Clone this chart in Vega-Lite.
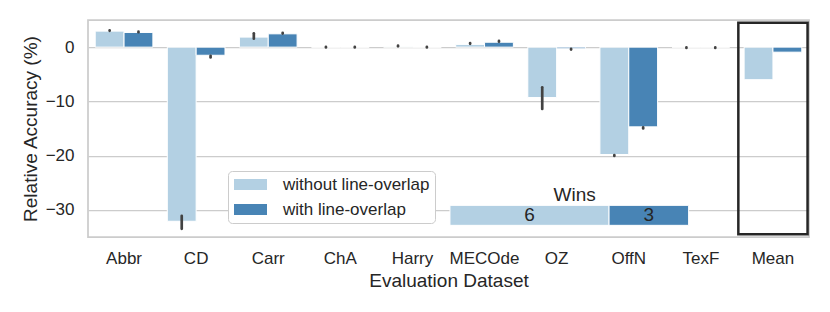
{
  "$schema": "https://vega.github.io/schema/vega-lite/v6.json",
  "width": 721,
  "height": 217,
  "autosize": {"type": "none"},
  "padding": {"left": 88, "top": 20, "right": 21, "bottom": 75},
  "background": "white",
  "config": {
    "font": "Liberation Sans",
    "view": {"stroke": "#cccccc", "strokeWidth": 1.75},
    "axis": {
      "labelFont": "Liberation Sans", "titleFont": "Liberation Sans",
      "labelColor": "#262626", "titleColor": "#262626",
      "labelFontSize": 17, "titleFontSize": 19, "titleFontWeight": "normal",
      "domain": false, "ticks": false, "tickSize": 0,
      "gridColor": "#cccccc", "gridWidth": 1.25
    },
    "axisX": {"grid": false, "labelAngle": 0, "labelPadding": 13, "titlePadding": 5},
    "axisY": {"labelPadding": 14, "titlePadding": 5},
    "legend": {
      "orient": "none", "legendX": 140, "legendY": 151,
      "labelFont": "Liberation Sans", "labelFontSize": 17, "labelColor": "#262626",
      "strokeColor": "#cccccc", "fillColor": "white", "cornerRadius": 4,
      "padding": 5, "rowPadding": 7, "labelOffset": 24, "symbolOffset": 9
    }
  },
  "layer": [
    {
      "data": {"values": [
        {"cat": "Abbr", "series": "without line-overlap", "value": 2.95, "lo": 3.0, "hi": 3.1},
        {"cat": "Abbr", "series": "with line-overlap", "value": 2.7, "lo": 2.75, "hi": 2.85},
        {"cat": "CD", "series": "without line-overlap", "value": -32.1, "lo": -33.5, "hi": -31.1},
        {"cat": "CD", "series": "with line-overlap", "value": -1.5, "lo": -1.9, "hi": -1.6},
        {"cat": "Carr", "series": "without line-overlap", "value": 1.85, "lo": 1.55, "hi": 2.55},
        {"cat": "Carr", "series": "with line-overlap", "value": 2.45, "lo": 2.5, "hi": 2.65},
        {"cat": "ChA", "series": "without line-overlap", "value": 0.0, "lo": -0.05, "hi": 0.05},
        {"cat": "ChA", "series": "with line-overlap", "value": 0.0, "lo": -0.05, "hi": 0.05},
        {"cat": "Harry", "series": "without line-overlap", "value": 0.05, "lo": 0.15, "hi": 0.3},
        {"cat": "Harry", "series": "with line-overlap", "value": 0.0, "lo": -0.05, "hi": 0.05},
        {"cat": "MECOde", "series": "without line-overlap", "value": 0.5, "lo": 0.6, "hi": 0.75},
        {"cat": "MECOde", "series": "with line-overlap", "value": 0.9, "lo": 1.0, "hi": 1.15},
        {"cat": "OZ", "series": "without line-overlap", "value": -9.3, "lo": -11.4, "hi": -7.4},
        {"cat": "OZ", "series": "with line-overlap", "value": -0.3, "lo": -0.45, "hi": -0.3},
        {"cat": "OffN", "series": "without line-overlap", "value": -19.8, "lo": -20.05, "hi": -19.9},
        {"cat": "OffN", "series": "with line-overlap", "value": -14.7, "lo": -15.0, "hi": -14.8},
        {"cat": "TexF", "series": "without line-overlap", "value": 0.0, "lo": -0.15, "hi": -0.05},
        {"cat": "TexF", "series": "with line-overlap", "value": 0.0, "lo": -0.15, "hi": -0.05},
        {"cat": "Mean", "series": "without line-overlap", "value": -6.0, "lo": null, "hi": null},
        {"cat": "Mean", "series": "with line-overlap", "value": -0.93, "lo": null, "hi": null}
      ]},
      "layer": [
        {
          "mark": {"type": "bar", "stroke": "white", "strokeWidth": 1},
          "encoding": {
            "x": {"field": "cat", "type": "nominal", "sort": null,
              "scale": {"domain": ["Abbr", "CD", "Carr", "ChA", "Harry", "MECOde", "OZ", "OffN", "TexF", "Mean"], "paddingInner": 0.2, "paddingOuter": 0.1},
              "axis": {"title": "Evaluation Dataset"}},
            "xOffset": {"field": "series", "type": "nominal", "sort": null,
              "scale": {"domain": ["without line-overlap", "with line-overlap"], "paddingInner": 0, "paddingOuter": 0}},
            "y": {"field": "value", "type": "quantitative",
              "scale": {"domain": [-35, 5], "nice": false, "zero": false},
              "axis": {"values": [-30, -20, -10, 0], "title": "Relative Accuracy (%)"}},
            "color": {"field": "series", "type": "nominal", "sort": null,
              "scale": {"domain": ["without line-overlap", "with line-overlap"], "range": ["#b3d0e3", "#4884b5"]},
              "legend": {"title": null, "symbolType": "M-3,-1H3V1H-3Z", "symbolSize": 121, "symbolStrokeWidth": 0}}
          }
        },
        {
          "mark": {"type": "rule", "color": "#424242", "strokeWidth": 2.7, "strokeCap": "round"},
          "encoding": {
            "x": {"field": "cat", "type": "nominal", "sort": null},
            "xOffset": {"field": "series", "type": "nominal", "sort": null},
            "y": {"field": "lo", "type": "quantitative"},
            "y2": {"field": "hi"}
          }
        },
        {
          "data": {"values": [{"cat": "Mean"}]},
          "mark": {"type": "bar", "fillOpacity": 0, "stroke": "#262626", "strokeWidth": 2.5, "width": {"band": 1.2}},
          "encoding": {
            "x": {"field": "cat", "type": "nominal", "sort": null},
            "y": {"datum": -34.5, "type": "quantitative"},
            "y2": {"datum": 4.5}
          }
        }
      ]
    },
    {
      "data": {"values": [
        {"series": "without line-overlap", "wins": 6},
        {"series": "with line-overlap", "wins": 3}
      ]},
      "layer": [
        {
          "transform": [{"stack": "wins", "groupby": [], "sort": [{"field": "series", "order": "descending"}], "as": ["w0", "w1"]}],
          "mark": {"type": "bar", "stroke": "white", "strokeWidth": 1},
          "encoding": {
            "x": {"field": "w0", "type": "quantitative", "scale": {"domain": [-13.65, 13.54], "nice": false, "zero": false}, "axis": null},
            "x2": {"field": "w1"},
            "y": {"datum": -29.17, "type": "quantitative"},
            "y2": {"datum": -32.85},
            "color": {"field": "series", "type": "nominal", "sort": null}
          }
        },
        {
          "transform": [
            {"stack": "wins", "groupby": [], "sort": [{"field": "series", "order": "descending"}], "as": ["w0", "w1"]},
            {"fold": ["w0", "w1"], "as": ["edge", "pos"]},
            {"aggregate": [{"op": "mean", "field": "pos", "as": "mid"}], "groupby": ["series", "wins"]}
          ],
          "mark": {"type": "text", "fontSize": 19, "font": "Liberation Sans", "color": "#262626", "baseline": "middle", "align": "center"},
          "encoding": {
            "x": {"field": "mid", "type": "quantitative"},
            "y": {"datum": -31.0, "type": "quantitative"},
            "text": {"field": "wins", "type": "quantitative"}
          }
        },
        {
          "data": {"values": [{"label": "Wins"}]},
          "mark": {"type": "text", "fontSize": 19, "font": "Liberation Sans", "color": "#262626", "baseline": "alphabetic"},
          "encoding": {
            "x": {"datum": 4.7, "type": "quantitative"},
            "y": {"datum": -28.3, "type": "quantitative"},
            "text": {"field": "label", "type": "nominal"}
          }
        }
      ]
    }
  ],
  "resolve": {"scale": {"x": "independent"}, "axis": {"x": "independent"}}
}
